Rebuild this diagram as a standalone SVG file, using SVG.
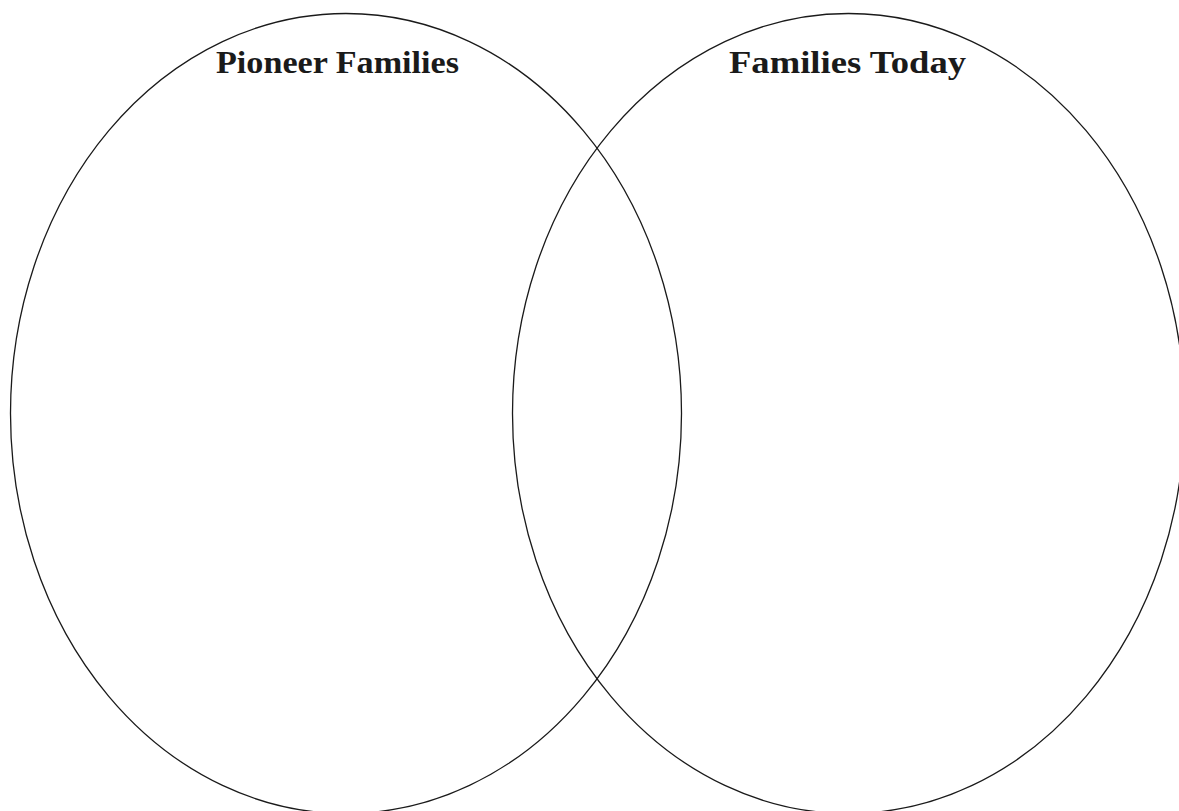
<svg xmlns="http://www.w3.org/2000/svg" width="1179" height="811" viewBox="0 0 1179 811">
<style>
.c{fill:none;stroke:#1a1a1a;stroke-width:1.3}
.t{font-family:"Liberation Serif","DejaVu Serif",serif;font-weight:bold;font-size:31px;fill:#1a1a1a}
</style>
<rect width="1179" height="811" fill="#fff"/>
<g id="pioneer">
<ellipse class="c" cx="346" cy="413.5" rx="335.5" ry="400"/>
<text class="t" x="216" y="73" textLength="243" lengthAdjust="spacingAndGlyphs">Pioneer Families</text>
</g>
<g id="today">
<ellipse class="c" cx="848.5" cy="413.5" rx="336" ry="400"/>
<text class="t" x="729" y="73" textLength="237" lengthAdjust="spacingAndGlyphs">Families Today</text>
</g>
<g id="connectors"/>
</svg>
